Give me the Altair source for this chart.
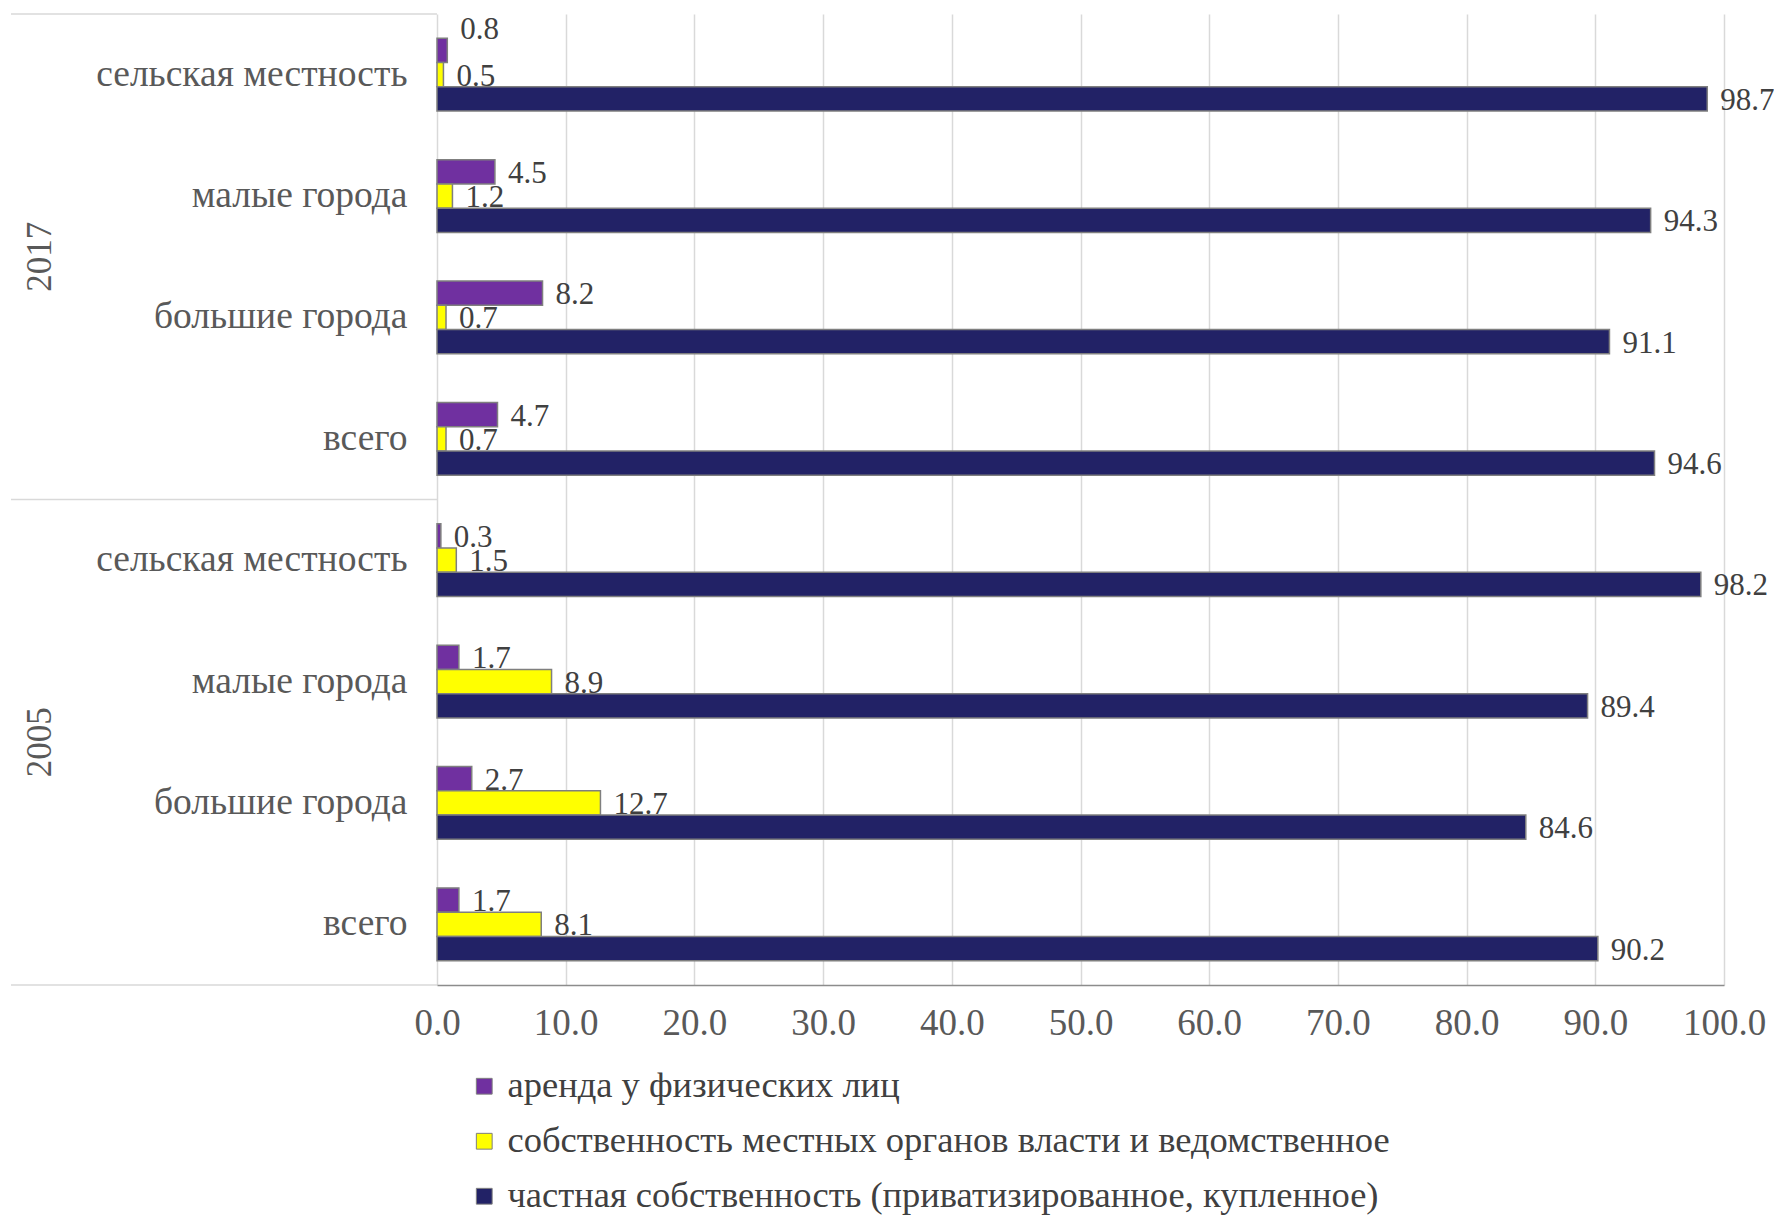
import altair as alt
import pandas as pd

years = ["2017", "2005"]
categories = ["сельская местность", "малые города", "большие города", "всего"]
series = [
    "аренда у физических лиц",
    "собственность местных органов власти и ведомственное",
    "частная собственность (приватизированное, купленное)",
]
colors = ["#7030A0", "#FFFF00", "#222266"]

rent_2017 = [0.8, 4.5, 8.2, 4.7]
municipal_2017 = [0.5, 1.2, 0.7, 0.7]
private_2017 = [98.7, 94.3, 91.1, 94.6]
rent_2005 = [0.3, 1.7, 2.7, 1.7]
municipal_2005 = [1.5, 8.9, 12.7, 8.1]
private_2005 = [98.2, 89.4, 84.6, 90.2]

values = {
    "2017": [rent_2017, municipal_2017, private_2017],
    "2005": [rent_2005, municipal_2005, private_2005],
}

rows = []
keys = []
for yr in years:
    for ci, cat in enumerate(categories):
        key = f"{yr}|{cat}"
        keys.append(key)
        for si, s in enumerate(series):
            rows.append({"key": key, "year": yr, "cat": cat, "series": s,
                         "value": values[yr][si][ci]})
df = pd.DataFrame(rows)

FONT = "Liberation Serif"
LABEL_GRAY = "#595959"


def ycode(band=None):
    kw = {}
    if band is not None:
        kw["bandPosition"] = band
    return alt.Y(
        "key:N", sort=keys,
        scale=alt.Scale(domain=keys, paddingInner=0, paddingOuter=0),
        axis=alt.Axis(labelExpr="split(datum.label, '|')[1]", ticks=False, domain=False,
                      labelFontSize=37.5, labelColor=LABEL_GRAY, labelPadding=30,
                      labelLimit=0, title=None, labelFont=FONT),
        **kw,
    )


xenc = alt.X(
    "value:Q",
    scale=alt.Scale(domain=[0, 100], nice=False, zero=True),
    axis=alt.Axis(values=list(range(0, 101, 10)), format=".1f", grid=True,
                  gridColor="#d9d9d9", gridWidth=1.5, domainColor="#8c8c8c",
                  domainWidth=1.5, ticks=False, labelFontSize=37, labelFlush=False,
                  labelColor=LABEL_GRAY, labelPadding=20, title=None, labelFont=FONT),
)

yoff = alt.YOffset("series:N", sort=series,
                   scale=alt.Scale(domain=series, paddingInner=0, paddingOuter=1.0))

base = alt.Chart(df)

bars = base.mark_bar(stroke="#7f7f7f", strokeWidth=1.5).encode(
    x=xenc,
    y=ycode(),
    yOffset=yoff,
    color=alt.Color(
        "series:N", sort=series,
        scale=alt.Scale(domain=series, range=colors),
        legend=alt.Legend(orient="none", legendX=29, legendY=1054, direction="vertical",
                          title=None, symbolType="square", symbolSize=250,
                          symbolStrokeColor="#7f7f7f", symbolStrokeWidth=1,
                          labelFontSize=36.5, labelColor="#404040", rowPadding=18,
                          labelOffset=5, padding=0, labelLimit=0, labelFont=FONT),
    ),
)

is_special = (alt.datum.key == "2017|сельская местность") & (alt.datum.series == series[0])

labels = base.mark_text(align="left", baseline="middle", dx=13, dy=2, fontSize=31,
                        color="#404040", font=FONT).encode(
    x=xenc, y=ycode(), yOffset=yoff,
    text=alt.Text("value:Q", format=".1f"),
).transform_filter(~is_special)

labels_special = base.mark_text(align="left", baseline="middle", dx=13, dy=-20,
                                fontSize=31, color="#404040", font=FONT).encode(
    x=xenc, y=ycode(), yOffset=yoff,
    text=alt.Text("value:Q", format=".1f"),
).transform_filter(is_special)

sep_df = pd.DataFrame({"key": [f"{yr}|{categories[0]}" for yr in years]})
bottom_df = pd.DataFrame({"key": [f"{years[-1]}|{categories[-1]}"]})

seps = alt.Chart(sep_df).mark_rule(color="#d9d9d9", strokeWidth=1.5).encode(
    y=ycode(0), x=alt.value(-426), x2=alt.value(0))
bottom_sep = alt.Chart(bottom_df).mark_rule(color="#d9d9d9", strokeWidth=1.5).encode(
    y=ycode(1), x=alt.value(-426), x2=alt.value(0))

year_df = pd.DataFrame({"key": [f"{yr}|{categories[1]}" for yr in years], "year": years})
year_labels = alt.Chart(year_df).mark_text(angle=270, fontSize=35, color=LABEL_GRAY,
                                           align="center", baseline="middle",
                                           font=FONT).encode(
    y=ycode(1), x=alt.value(-397), text="year:N")

chart = alt.layer(seps, bottom_sep, bars, labels, labels_special, year_labels).properties(
    width=1287, height=971,
    autosize=alt.AutoSizeParams(type="none"),
    padding={"left": 429, "top": 6, "right": 50, "bottom": 233},
).configure(font=FONT).configure_view(stroke=None)

chart.save("out.html", embed_options={"renderer": "svg", "actions": False})
